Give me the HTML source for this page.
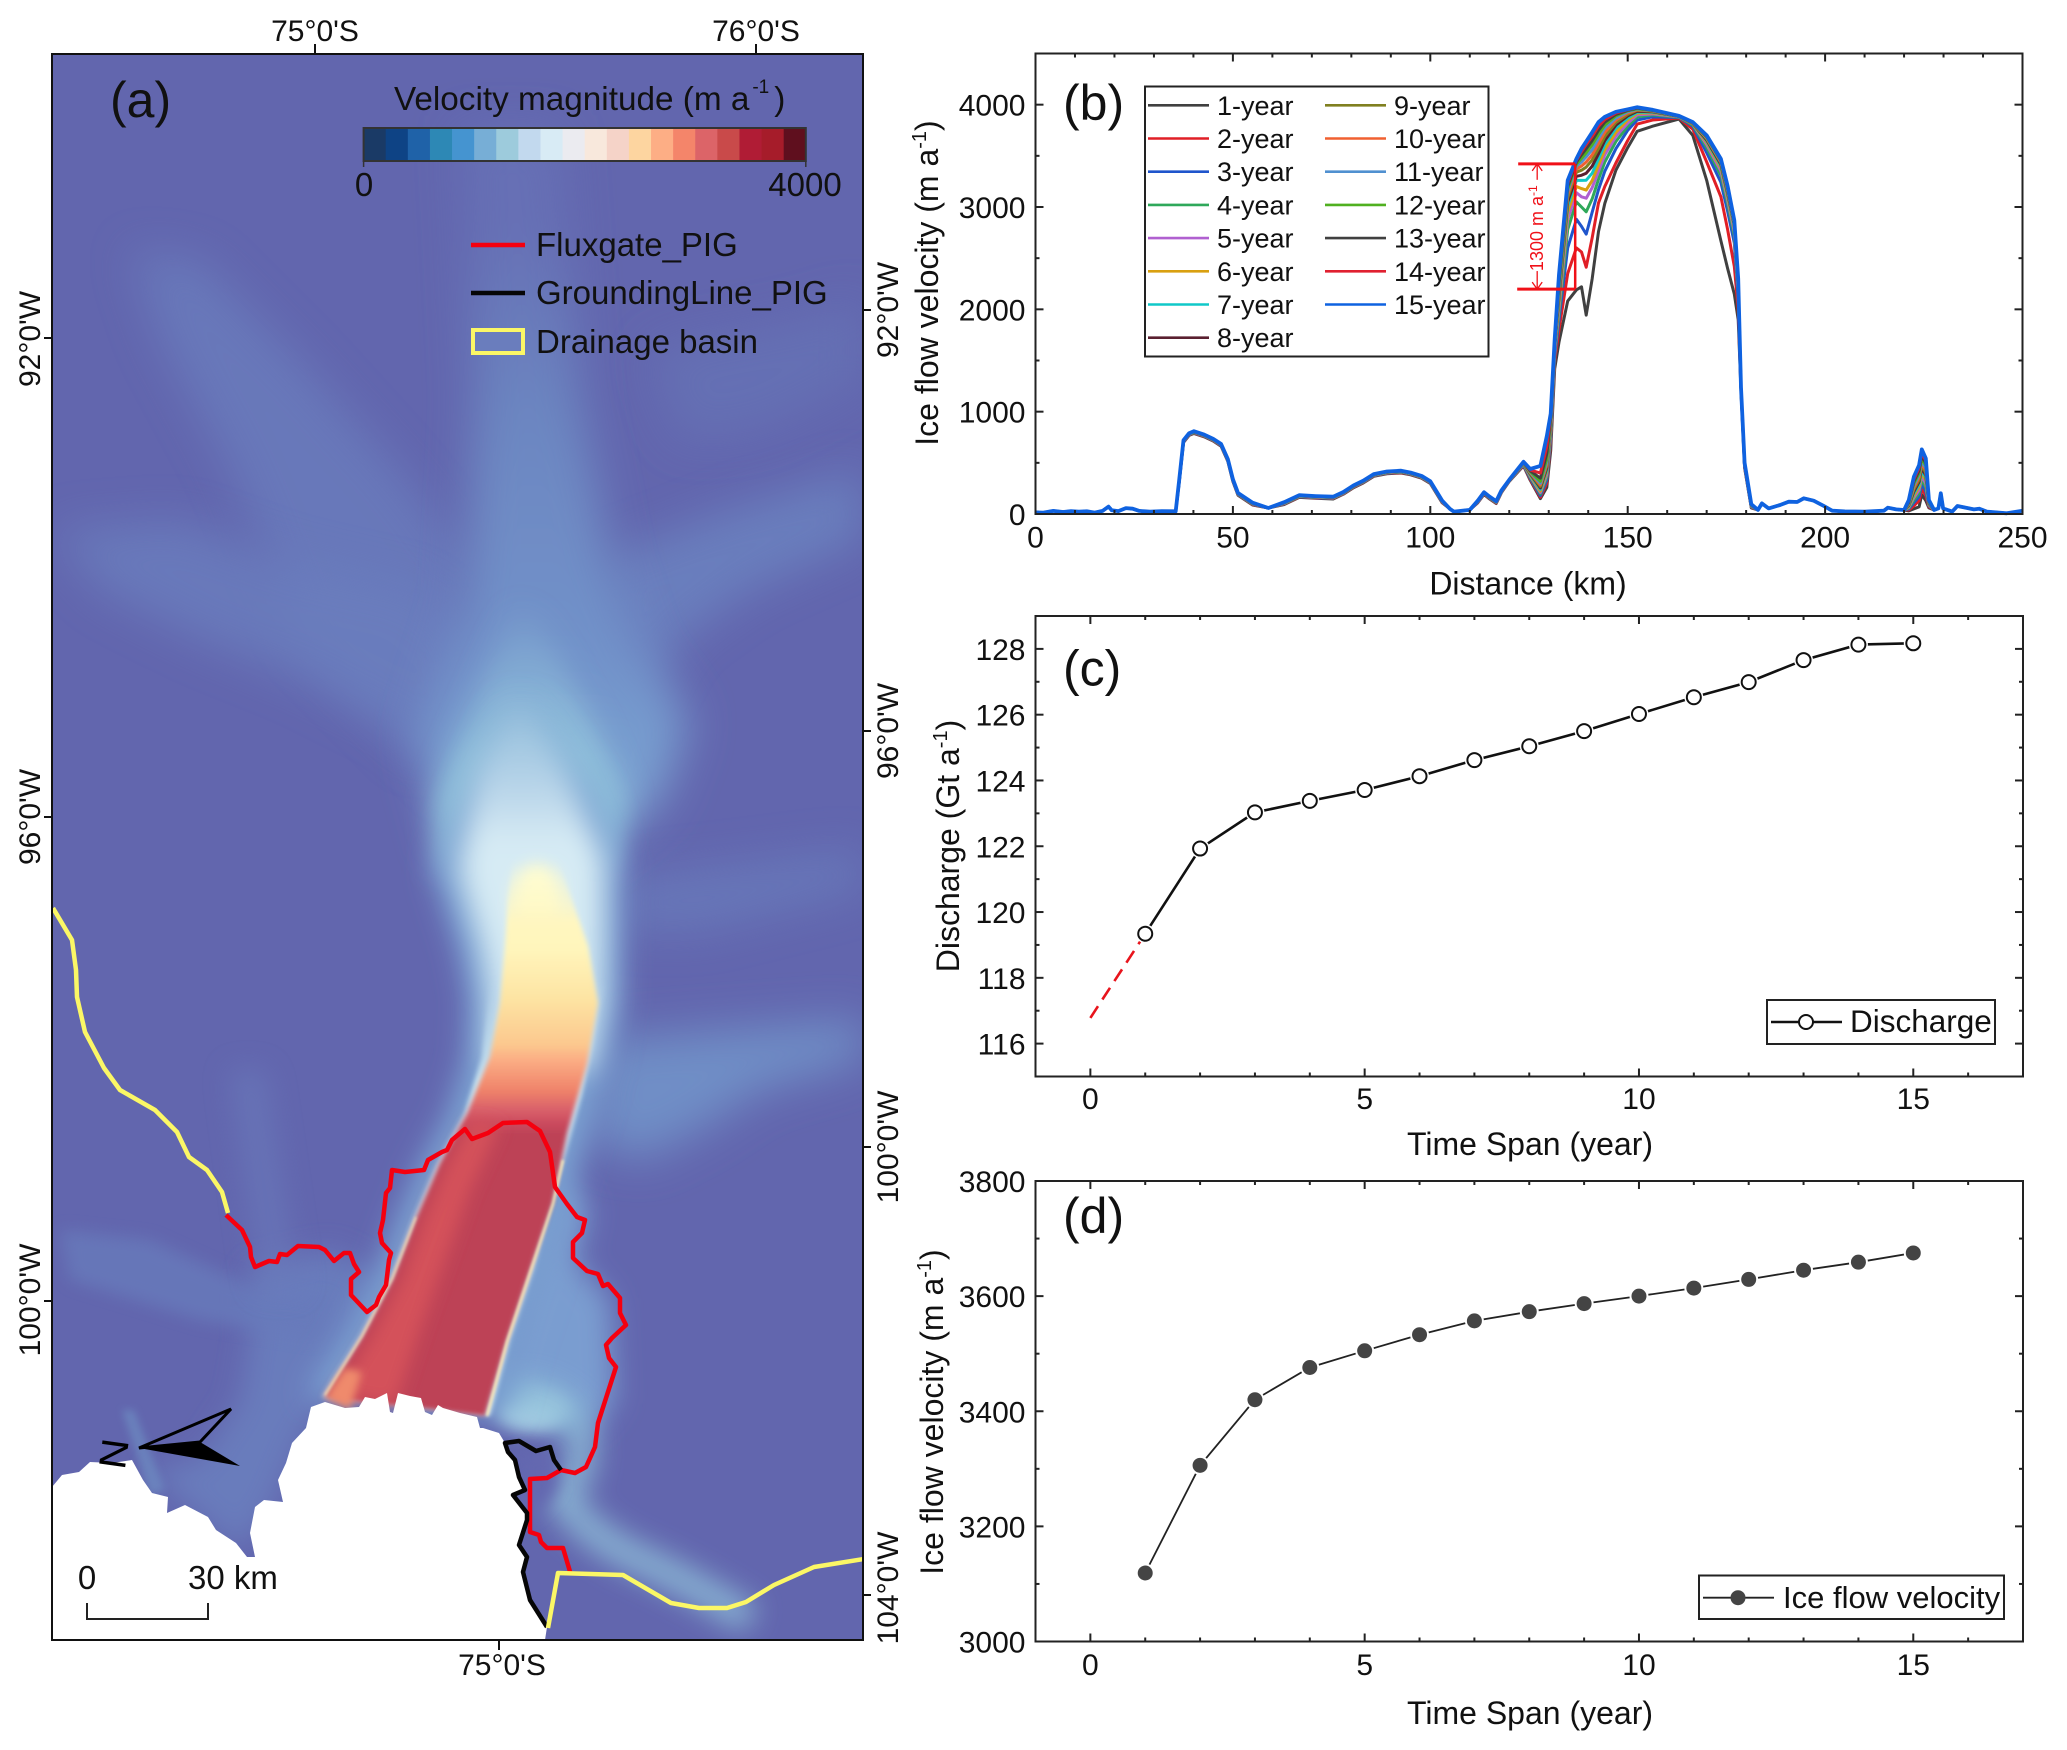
<!DOCTYPE html>
<html lang="en">
<head>
<meta charset="utf-8">
<title>Pine Island Glacier velocity and discharge</title>
<style>
html,body{margin:0;padding:0;background:#fff;}
svg{display:block;font-family:"Liberation Sans",Arial,sans-serif;fill:#111;}
</style>
</head>
<body>
<svg id="figure" xmlns="http://www.w3.org/2000/svg" width="2067" height="1750" viewBox="0 0 2067 1750">
<defs>
<clipPath id="mapClip"><rect x="52" y="54" width="811" height="1586"/></clipPath>
<filter id="b1" filterUnits="userSpaceOnUse" x="0" y="0" width="1000" height="1800"><feGaussianBlur stdDeviation="1.2"/></filter>
<filter id="b3" filterUnits="userSpaceOnUse" x="0" y="0" width="1000" height="1800"><feGaussianBlur stdDeviation="2.5"/></filter>
<filter id="b4" filterUnits="userSpaceOnUse" x="0" y="0" width="1000" height="1800"><feGaussianBlur stdDeviation="4"/></filter>
<filter id="b8" filterUnits="userSpaceOnUse" x="0" y="0" width="1000" height="1800"><feGaussianBlur stdDeviation="8"/></filter>
<filter id="b14" filterUnits="userSpaceOnUse" x="0" y="0" width="1000" height="1800"><feGaussianBlur stdDeviation="14"/></filter>
<filter id="b22" filterUnits="userSpaceOnUse" x="0" y="0" width="1000" height="1800"><feGaussianBlur stdDeviation="22"/></filter>
<linearGradient id="tongueGrad" gradientUnits="userSpaceOnUse" x1="0" y1="860" x2="0" y2="1420">
<stop offset="0" stop-color="#fefcd0" stop-opacity="0"/><stop offset=".11" stop-color="#fff6c0"/><stop offset=".16" stop-color="#fff5bb"/>
<stop offset=".25" stop-color="#fde3a2"/><stop offset=".33" stop-color="#fcc88e"/><stop offset=".357" stop-color="#fbad84"/>
<stop offset=".41" stop-color="#f0846b"/><stop offset=".446" stop-color="#d9606a"/><stop offset=".473" stop-color="#c9485c"/>
<stop offset=".49" stop-color="#bd4257"/><stop offset="1" stop-color="#bd4257"/>
</linearGradient>
<linearGradient id="stemGrad" gradientUnits="userSpaceOnUse" x1="0" y1="230" x2="0" y2="850">
<stop offset="0" stop-color="#6670b5"/><stop offset=".3" stop-color="#6c86c1"/><stop offset=".7" stop-color="#7293ca"/><stop offset="1" stop-color="#7ea9d5"/>
</linearGradient>
<linearGradient id="brightGrad" gradientUnits="userSpaceOnUse" x1="0" y1="600" x2="0" y2="760">
<stop offset="0" stop-color="#93c4dc" stop-opacity="0"/><stop offset="1" stop-color="#93c4dc"/>
</linearGradient>
<linearGradient id="paleGrad" gradientUnits="userSpaceOnUse" x1="0" y1="690" x2="0" y2="840">
<stop offset="0" stop-color="#d6ebf4" stop-opacity="0"/><stop offset="1" stop-color="#d6ebf4"/>
</linearGradient>
<linearGradient id="outerGrad" gradientUnits="userSpaceOnUse" x1="0" y1="690" x2="0" y2="830">
<stop offset="0" stop-color="#7aa2d2" stop-opacity="0"/><stop offset="1" stop-color="#7aa2d2"/>
</linearGradient>
<linearGradient id="haloLowerGrad" gradientUnits="userSpaceOnUse" x1="0" y1="980" x2="0" y2="1080">
<stop offset="0" stop-color="#c8e3f0" stop-opacity="0"/><stop offset="1" stop-color="#c8e3f0"/>
</linearGradient>
</defs>

<g id="map">
<g clip-path="url(#mapClip)">
<rect x="52" y="54" width="811" height="1586" fill="#6266ae"/>
<polygon points="130,250 200,260 300,360 400,470 470,560 470,720 420,760 300,640 230,470 160,340" fill="#6a7ebe" opacity=".75" filter="url(#b22)"/>
<polygon points="52,530 180,520 290,560 420,590 470,640 470,800 400,730 300,680 200,640 100,590" fill="#6a7ebe" opacity=".8" filter="url(#b22)"/>
<polygon points="600,560 730,510 863,470 863,540 750,590 680,640 640,720 600,720" fill="#6c84c1" opacity=".8" filter="url(#b22)"/>
<polygon points="650,350 800,320 863,300 863,380 760,430 680,440" fill="#6570b4" filter="url(#b22)"/>
<polygon points="620,880 863,850 863,890 700,930 620,930" fill="#697cbc" opacity=".8" filter="url(#b22)"/>
<polygon points="600,1040 720,1030 863,1020 863,1060 760,1090 700,1130 640,1160 590,1140" fill="#6f8ec6" filter="url(#b22)"/>
<polygon points="460,130 560,130 580,400 610,560 640,650 690,720 660,800 600,850 450,850 420,740 465,600 475,400" fill="url(#stemGrad)" filter="url(#b22)"/>
<polygon points="515,600 540,620 590,720 625,800 610,870 440,870 435,800 470,720" fill="url(#brightGrad)" filter="url(#b14)"/>
<polygon points="250,1270 330,1250 390,1280 340,1380 300,1440 270,1510 240,1550 170,1490 150,1470 200,1460 240,1400 250,1340" fill="#697cbc" filter="url(#b14)"/>
<polygon points="60,1230 150,1240 260,1290 330,1300 320,1340 200,1320 70,1280" fill="#687abb" opacity=".8" filter="url(#b8)"/>
<polygon points="230,1070 265,1070 290,1240 300,1290 260,1290" fill="#6a7cbc" opacity=".6" filter="url(#b14)"/>
<polygon points="122,1410 134,1410 165,1490 150,1495" fill="#6e8fc4" opacity=".65" filter="url(#b4)"/>
<polygon points="490,1410 560,1170 590,1210 575,1260 610,1300 615,1400 590,1430 540,1420" fill="#7a9dd0" filter="url(#b14)"/>
<ellipse cx="533" cy="1412" rx="36" ry="20" fill="#a5cde3" filter="url(#b8)"/>
<path d="M500 1395 Q550 1385 578 1425 Q590 1470 560 1495 Q585 1535 640 1560 T750 1620" fill="none" stroke="#8fbfd9" stroke-width="30" opacity=".85" filter="url(#b14)"/>
<polygon points="515,1450 555,1452 558,1490 530,1520" fill="#6468b0" filter="url(#b8)"/>
<polygon points="500,690 540,690 600,790 622,860 622,930 622,1003 600,1095 575,1180 550,1271 527,1340 507,1416 305,1397 343,1336 373,1279 397,1217 420,1164 447,1114 465,1057 468,1000 458,950 432,870 470,770" fill="url(#outerGrad)" filter="url(#b14)"/>
<polygon points="518,690 565,770 604,860 604,930 602,1003 590,1070 490,1070 490,1000 482,950 458,870 478,770" fill="url(#paleGrad)" filter="url(#b14)"/>
<polygon points="490,980 606,980 582,1095 558,1180 533,1271 510,1340 490,1416 322,1397 360,1336 390,1279 414,1217 437,1164 464,1114 482,1057" fill="url(#haloLowerGrad)" filter="url(#b3)"/>
<ellipse cx="537" cy="900" rx="24" ry="36" fill="#fefcd0" filter="url(#b8)"/>
<polygon points="513,860 557,860 572,900 588,946 598,1003 587,1064 567,1133 553,1202 530,1271 507,1340 485,1416 325,1397 363,1336 393,1279 417,1217 440,1164 467,1114 490,1057 500,1003 505,946 508,900" fill="url(#tongueGrad)" filter="url(#b3)"/>
<polygon points="335,1395 372,1336 402,1279 425,1217 448,1164 472,1120 500,1125 470,1190 445,1260 420,1330 395,1405" fill="#d4515a" filter="url(#b8)"/>
<polygon points="325,1398 345,1368 362,1372 350,1410" fill="#ef8a6c" filter="url(#b4)"/>
<path d="M487 1416 L507 1342 L530 1273 L553 1204 L563 1160" fill="none" stroke="#fff2b8" stroke-width="2.5" opacity=".9" filter="url(#b1)"/>
<path d="M325 1395 L362 1336 L392 1279 L416 1217" fill="none" stroke="#fff2b8" stroke-width="2" opacity=".7" filter="url(#b1)"/>
<polygon fill="#ffffff" points="311,1407 325,1402 345,1408 359,1407 365,1397 375,1399 387,1393 390,1412 393,1413 398,1393 410,1396 421,1398 425,1412 432,1415 438,1405 443,1408 460,1413 477,1417 480,1428 483,1428 499,1433 505,1443 508,1452 515,1460 519,1477 525,1490 513,1495 527,1513 527,1520 519,1545 527,1557 523,1572 530,1600 547,1627 545,1640 52,1640 52,1487 62,1475 79,1472 90,1462 112,1463 132,1460 143,1480 152,1493 168,1497 167,1513 185,1505 208,1517 216,1530 236,1543 247,1557 255,1557 250,1533 255,1507 264,1500 283,1502 278,1480 286,1463 292,1443 306,1428"/>
<polyline fill="none" stroke="#f5000f" stroke-width="4.5" stroke-linejoin="round" points="226,1215 242,1230 250,1247 251,1257 255,1267 269,1261 277,1262 280,1254 287,1255 298,1246 319,1247 325,1250 334,1261 344,1253 350,1253 354,1264 359,1272 351,1279 351,1295 367,1312 376,1305 379,1297 386,1285 389,1260 391,1253 382,1243 380,1233 383,1220 386,1193 390,1188 392,1170 405,1172 424,1170 428,1160 442,1152 447,1150 452,1140 465,1129 472,1139 488,1133 503,1123 527,1122 540,1131 550,1152 555,1187 567,1204 577,1217 585,1220 582,1233 573,1242 573,1258 587,1271 598,1274 603,1286 608,1284 620,1298 620,1313 626,1325 612,1338 606,1345 609,1358 616,1367 598,1423 595,1447 586,1467 575,1473 561,1470 547,1478 530,1479 530,1532 539,1535 541,1542 547,1548 563,1548 571,1575"/>
<polyline fill="none" stroke="#060606" stroke-width="4.5" stroke-linejoin="round" points="561,1470 554,1460 550,1447 536,1451 519,1441 505,1443 508,1452 515,1460 519,1477 525,1490 513,1495 527,1513 527,1520 519,1545 527,1557 523,1572 530,1600 547,1627"/>
<polyline fill="none" stroke="#fbf766" stroke-width="4.5" stroke-linejoin="round" points="53,908 72,940 76,970 77,997 85,1032 104,1068 120,1090 155,1110 177,1132 189,1157 207,1170 222,1192 228,1213"/>
<polyline fill="none" stroke="#fbf766" stroke-width="4.5" stroke-linejoin="round" points="548,1628 558,1573 623,1575 671,1603 699,1608 727,1608 746,1602 774,1585 814,1567 870,1558"/>
</g>
<rect x="52" y="54" width="811" height="1586" fill="none" stroke="#111" stroke-width="2"/>

<g stroke="#111" stroke-width="2">
<line x1="315" y1="44" x2="315" y2="54"/>
<line x1="756" y1="44" x2="756" y2="54"/>
<line x1="499" y1="1640" x2="499" y2="1650"/>
<line x1="44" y1="338" x2="52" y2="338"/>
<line x1="44" y1="817" x2="52" y2="817"/>
<line x1="44" y1="1301" x2="52" y2="1301"/>
<line x1="863" y1="310" x2="871" y2="310"/>
<line x1="863" y1="731" x2="871" y2="731"/>
<line x1="863" y1="1147" x2="871" y2="1147"/>
<line x1="863" y1="1595" x2="871" y2="1595"/>
</g>
<g font-size="30" text-anchor="middle">
<text x="315" y="41">75°0'S</text>
<text x="756" y="41">76°0'S</text>
<text x="502" y="1675">75°0'S</text>
<text transform="translate(40,339) rotate(-90)">92°0'W</text>
<text transform="translate(40,817) rotate(-90)">96°0'W</text>
<text transform="translate(40,1300) rotate(-90)">100°0'W</text>
<text transform="translate(898,310) rotate(-90)">92°0'W</text>
<text transform="translate(898,731) rotate(-90)">96°0'W</text>
<text transform="translate(898,1147) rotate(-90)">100°0'W</text>
<text transform="translate(898,1588) rotate(-90)">104°0'W</text>
</g>

<text x="110" y="117" font-size="50">(a)</text>
<text x="394" y="110" font-size="33.3">Velocity magnitude (m a<tspan dy="-17" dx="3" font-size="19">-1</tspan><tspan dy="17" dx="5">)</tspan></text>
<g id="colorbar"></g>
<text x="364" y="196" font-size="33" text-anchor="middle">0</text>
<text x="805" y="196" font-size="33" text-anchor="middle">4000</text>

<g>
<line x1="471" y1="245" x2="525" y2="245" stroke="#f5000f" stroke-width="4.5"/>
<text x="536" y="256" font-size="33">Fluxgate_PIG</text>
<line x1="471" y1="293" x2="525" y2="293" stroke="#060606" stroke-width="4.5"/>
<text x="536" y="304" font-size="33">GroundingLine_PIG</text>
<rect x="473" y="330" width="50" height="23" fill="#6a7dbd" stroke="#fbf766" stroke-width="4"/>
<text x="536" y="353" font-size="33">Drainage basin</text>
</g>

<g>
<polygon points="139,1448 231,1409 200,1442" fill="none" stroke="#000" stroke-width="3"/>
<polygon points="139,1448 200,1442 240,1466" fill="#000"/>
<text transform="translate(103,1437) rotate(98) scale(1.1,1)" font-size="38" fill="#000">N</text>
</g>

<g>
<polyline points="87,1603 87,1619 208,1619 208,1603" fill="none" stroke="#222" stroke-width="2"/>
<text x="87" y="1589" font-size="33" text-anchor="middle">0</text>
<text x="188" y="1589" font-size="33">30 km</text>
</g>
</g>

<g id="panelB"></g>
<g id="panelC"></g>
<g id="panelD"></g>
</svg>

<script>
/* ---------- Colour bar ---------- */
const colorbarColors = ["#1a3a66","#0e4385","#1f62a8","#2d88b5","#4594d0","#77aed6","#9dcbdc","#c2d9ee","#d8ebf5","#ebebf0","#f8e8dc","#f5d3c8","#fdd5a0","#fdae85","#f4856a","#dc6468","#c94a4a","#b01c35","#a61c2a","#5f0f1e"];

/* ---------- Panel (b): velocity along profile ---------- */
const seriesNames = ["1-year","2-year","3-year","4-year","5-year","6-year","7-year","8-year","9-year","10-year","11-year","12-year","13-year","14-year","15-year"];
const seriesColors = ["#404040","#e01f26","#1f55cc","#2fa85a","#b060d0","#d9a010","#10c8c8","#5a2030","#808020","#f06030","#5090d0","#50b020","#404040","#e02030","#0f62e0"];
const leftKm = [0,2,4.5,7,9,11,13,15,17,18.5,19.3,21,22.9,24.6,26.3,29,32,35.5,36.4,37.5,38.9,40.1,42.7,45,47,48.7,50,51.3,55,59,63,66.8,71,75.4,78,80.6,83,85.7,89,92.6,95,97.8,100,103,105,106,110,112,113.6,115,116.7,118];
const leftVelocity = [16,14,30,20,28,22,26,14,30,72,36,28,58,52,30,22,28,26,332,721,790,809,776,735,684,537,340,206,110,59,115,184,175,169,215,280,325,390,415,423,405,372,320,132,50,22,40,130,213,170,125,230];
const leftSpread = [-22,-18,-15,-13,-11,-9,-8,-7,-6,-5,-4,-3,-2,-1,0];
const midKm = [120,123.6,125.3,127.9,129.5,130.5,131.5,132.6,134.8,137,138.3,139.5,141,142.6,144.2,147,150,152.4,156.3,163,166.5,170,173.6,175.3,177,178,178.7,179.6,181.3];
const midYear1  = [320,470,330,150,260,620,1420,1680,2080,2190,2220,1944,2300,2760,3035,3360,3580,3740,3790,3860,3700,3260,2670,2400,2150,1900,1200,450,60];
const midYear2  = [322,475,340,165,300,700,1500,1800,2350,2600,2560,2412,2700,3040,3200,3430,3650,3810,3850,3870,3760,3440,3100,2780,2420,2000,1215,460,65];
const midYear3  = [324,480,350,180,330,740,1540,1900,2600,2880,2810,2735,2950,3170,3350,3570,3750,3850,3880,3875,3790,3530,3240,2960,2650,2100,1220,470,68];
const midYear4  = [326,484,360,195,360,770,1570,1960,2780,3050,3000,2953,3080,3270,3440,3640,3790,3880,3900,3878,3800,3580,3310,3030,2720,2150,1222,475,72];
const midYear5  = [328,487,370,210,385,795,1590,2010,2880,3140,3100,3086,3190,3350,3510,3690,3820,3900,3910,3880,3810,3610,3350,3070,2760,2180,1224,478,75];
const midYear6  = [329,490,378,225,410,820,1610,2050,2950,3200,3180,3165,3260,3410,3560,3730,3850,3915,3920,3882,3812,3630,3380,3100,2790,2200,1226,480,78];
const midYear7  = [330,492,385,240,430,840,1625,2090,3010,3260,3260,3262,3330,3470,3610,3770,3870,3925,3925,3884,3815,3645,3400,3120,2810,2220,1228,482,80];
const midYear8  = [331,494,392,255,450,860,1640,2120,3050,3300,3310,3330,3400,3520,3650,3800,3890,3935,3930,3885,3816,3655,3415,3135,2825,2235,1229,484,82];
const midYear9  = [332,496,398,270,470,875,1650,2150,3090,3340,3360,3390,3460,3570,3690,3825,3905,3945,3935,3886,3818,3665,3430,3150,2835,2245,1230,486,84];
const midYear10 = [332,498,404,285,490,890,1660,2175,3120,3370,3400,3440,3510,3620,3730,3850,3920,3950,3938,3887,3820,3672,3440,3160,2845,2255,1231,488,86];
const midYear11 = [333,500,410,300,510,905,1670,2200,3150,3400,3440,3490,3560,3670,3770,3870,3930,3955,3940,3888,3822,3678,3447,3170,2850,2265,1232,490,88];
const midYear12 = [333,502,416,320,540,920,1680,2225,3175,3420,3475,3530,3610,3710,3800,3890,3940,3960,3943,3888,3823,3684,3453,3178,2855,2275,1233,492,90];
const midYear13 = [334,504,422,350,590,940,1690,2260,3200,3440,3510,3570,3650,3750,3830,3905,3945,3965,3945,3889,3825,3690,3458,3186,2860,2285,1234,495,92];
const midYear14 = [334,507,430,400,660,960,1700,2300,3230,3455,3540,3610,3690,3790,3855,3918,3950,3970,3948,3890,3828,3695,3464,3195,2865,2292,1235,497,94];
const midYear15 = [335,510,440,470,760,980,1710,2340,3260,3470,3570,3640,3730,3830,3880,3930,3955,3975,3950,3890,3830,3700,3470,3205,2870,2300,1236,500,96];
const midVelocity = [midYear1,midYear2,midYear3,midYear4,midYear5,midYear6,midYear7,midYear8,midYear9,midYear10,midYear11,midYear12,midYear13,midYear14,midYear15];
const rightKm = [183,184,185.7,188.6,190.8,192.9,194.6,197.1,199.7,201.8,205,210,214.9,215.9,218,220];
const rightVelocity = [40,104,55,88,120,117,153,130,78,32,25,22,32,62,45,39];
const peakKm = [221.2,222.5,223.8,224.5,225.5,226.3];
const peakVelocity = [[30,50,70,190,130,60],[40,80,130,250,180,70],[50,110,170,300,220,80],[58,135,205,340,260,85],[65,160,235,375,295,90],[72,180,265,405,325,95],[78,200,290,430,350,100],[84,220,315,455,375,105],[90,240,335,475,400,110],[96,260,360,500,420,115],[102,280,380,525,445,118],[108,300,400,550,470,122],[115,320,425,575,495,126],[125,340,450,600,520,130],[137,365,478,631,543,137]];
const tailKm = [227.6,228.7,229.3,229.9,232.2,233.5,237.7,239,241,246,250];
const tailVelocity = [39,55,202,55,23,78,45,52,23,7,32];
const bXTicks = [0,50,100,150,200,250];
const bXMinor = [10,20,30,40,60,70,80,90,110,120,130,140,160,170,180,190,210,220,230,240];
const bYTicks = [0,1000,2000,3000,4000];
const bYMinor = [500,1500,2500,3500];
const annotationKm = 136.7;
const annotationTop = 3422;
const annotationBottom = 2198;

/* ---------- Panel (c): discharge ---------- */
const spanYears = [1,2,3,4,5,6,7,8,9,10,11,12,13,14,15];
const dischargeValues = [119.34,121.93,123.03,123.38,123.71,124.13,124.62,125.04,125.5,126.02,126.53,126.99,127.66,128.13,128.17];
const dischargeExtrapolatedYear = 0;
const dischargeExtrapolated = 116.78;
const cXTicks = [0,5,10,15];
const cXMinor = [-1,1,2,3,4,6,7,8,9,11,12,13,14,16,17];
const cYTicks = [116,118,120,122,124,126,128];
const cYMinor = [115,117,119,121,123,125,127,129];

/* ---------- Panel (d): mean velocity ---------- */
const velocityValues = [3119,3306,3420,3476,3505,3533,3557,3573,3587,3600,3614,3629,3645,3659,3675];
const dYTicks = [3000,3200,3400,3600,3800];
const dYMinor = [3100,3300,3500,3700];

const NS = "http://www.w3.org/2000/svg";
function mk(tag, attrs, parent) {
  const el = document.createElementNS(NS, tag);
  for (const k in attrs) el.setAttribute(k, attrs[k]);
  parent.appendChild(el);
  return el;
}
function linear(d0, d1, r0, r1) { return v => r0 + (v - d0) * (r1 - r0) / (d1 - d0); }
function pathOf(xs, ys, sx, sy) { return xs.map((x, i) => sx(x).toFixed(1) + "," + sy(ys[i]).toFixed(1)).join(" "); }

/* colour bar */
(function () {
  const g = document.getElementById("colorbar");
  const x0 = 363.6, w = 442.2 / colorbarColors.length;
  colorbarColors.forEach((c, i) => {
    const el = mk("rect", {x: x0 + i * w, y: 128, width: w + 0.5, height: 33, fill: c}, g);
    
    
  });
  const frame = mk("rect", {x: 363.6, y: 128, width: 442.2, height: 33, fill: "none", stroke: "#333", "stroke-width": 2}, g);
  
  
  [363.6, 805.8].forEach(x => {
    const t = mk("line", {x1: x, x2: x, y1: 161, y2: 167, stroke: "#333", "stroke-width": 1.5}, g);
    
    
  });
})();

/* shared axes frame */
function drawAxes(g, box, sx, sy, xMajor, xMinor, yMajor, yMinor, labelBaseline) {
  const frame = mk("rect", {x: box.l, y: box.t, width: box.r - box.l, height: box.b - box.t, fill: "none", stroke: "#222", "stroke-width": 2}, g);
  
  
  function tick(x1, y1, x2, y2, name) {
    const t = mk("line", {x1, y1, x2, y2, stroke: "#222", "stroke-width": 2}, g);
    
    
  }
  xMajor.forEach(v => {
    const x = sx(v);
    tick(x, box.b, x, box.b - 8, 'x-tick-major');
    tick(x, box.t, x, box.t + 8, 'x-tick-major-top');
    const lab = mk("text", {x, y: labelBaseline, "font-size": 30, "text-anchor": "middle"}, g);
    lab.textContent = v;
    
    
  });
  xMinor.forEach(v => {
    const x = sx(v);
    tick(x, box.b, x, box.b - 4, 'x-tick-minor');
    tick(x, box.t, x, box.t + 4, 'x-tick-minor-top');
  });
  yMajor.forEach(v => {
    const y = sy(v);
    tick(box.l, y, box.l + 8, y, 'y-tick-major');
    tick(box.r, y, box.r - 8, y, 'y-tick-major-right');
    const lab = mk("text", {x: box.l - 10, y: y + 11, "font-size": 30, "text-anchor": "end"}, g);
    lab.textContent = v;
    
    
  });
  yMinor.forEach(v => {
    const y = sy(v);
    tick(box.l, y, box.l + 4, y, 'y-tick-minor');
    tick(box.r, y, box.r - 4, y, 'y-tick-minor-right');
  });
}
function addText(g, txt, attrs, name) {
  const el = mk("text", attrs, g);
  el.textContent = txt;
  
  
  return el;
}
function addYTitle(g, main, tail, x, y, name) {
  const el = mk("text", {transform: "translate(" + x + "," + y + ") rotate(-90)", "font-size": 32, "text-anchor": "middle"}, g);
  
  
  el.appendChild(document.createTextNode(main));
  const s = mk("tspan", {dy: -12, "font-size": 20}, el);
  s.textContent = "-1";
  const e = mk("tspan", {dy: 12}, el);
  e.textContent = tail;
}

/* panel b */
(function () {
  const g = document.getElementById("panelB");
  const box = {l: 1035.5, r: 2022.5, t: 53.5, b: 514};
  const sx = linear(0, 250, box.l, box.r);
  const sy = linear(0, 4500, box.b, box.t);
  seriesNames.forEach((name, i) => {
    const xs = [], ys = [];
    leftKm.forEach((k, j) => { xs.push(k); ys.push(leftVelocity[j] > 100 ? leftVelocity[j] + leftSpread[i] : leftVelocity[j]); });
    midKm.forEach((k, j) => { xs.push(k); ys.push(midVelocity[i][j]); });
    rightKm.forEach((k, j) => { xs.push(k); ys.push(rightVelocity[j]); });
    peakKm.forEach((k, j) => { xs.push(k); ys.push(peakVelocity[i][j]); });
    tailKm.forEach((k, j) => { xs.push(k); ys.push(tailVelocity[j]); });
    const line = mk("polyline", {points: pathOf(xs, ys, sx, sy), fill: "none", stroke: seriesColors[i], "stroke-width": i === 14 ? 3.8 : 3, "stroke-linejoin": "round"}, g);
    
    
  });
  drawAxes(g, box, sx, sy, bXTicks, bXMinor, bYTicks, bYMinor, 547.5);
  addText(g, "Distance (km)", {x: 1528, y: 594.5, "font-size": 32, "text-anchor": "middle"}, 'x-axis-title');
  addYTitle(g, "Ice flow velocity (m a", ")", 938, 283, 'y-axis-title');
  addText(g, "(b)", {x: 1063, y: 120, "font-size": 50}, 'panel-label-b');

  /* annotation */
  const ax = sx(annotationKm), at = sy(annotationTop), ab = sy(annotationBottom);
  const ann = mk("g", {stroke: "#f01018", fill: "none"}, g);
  
  
  [[ax - 57, at, ax, at, 3], [ax - 58, ab, ax, ab, 3], [ax, at, ax, ab, 2.5], [ax - 38, at, ax - 38, at + 16, 1.3], [ax - 38, ab - 18, ax - 38, ab, 1.3]].forEach(p => {
    const l = mk("line", {x1: p[0], y1: p[1], x2: p[2], y2: p[3], "stroke-width": p[4]}, ann);
    
    
  });
  [[ax - 43, at + 7, ax - 38, at, ax - 33, at + 7], [ax - 43, ab - 7, ax - 38, ab, ax - 33, ab - 7]].forEach(p => {
    const h = mk("polyline", {points: p[0] + "," + p[1] + " " + p[2] + "," + p[3] + " " + p[4] + "," + p[5], "stroke-width": 1.3}, ann);
    
    
  });
  const t = mk("text", {transform: "translate(" + (ax - 32) + "," + (ab - 18) + ") rotate(-90)", "font-size": 18, fill: "#f01018"}, g);
  
  
  t.appendChild(document.createTextNode("1300 m a"));
  const sup = mk("tspan", {dy: -6, "font-size": 12}, t);
  sup.textContent = "-1";

  /* legend */
  const lg = mk("g", {}, g);
  
  
  const bg = mk("rect", {x: 1145, y: 86.5, width: 343.5, height: 270, fill: "#fff", stroke: "#222", "stroke-width": 2}, lg);
  
  
  seriesNames.forEach((name, i) => {
    const col = i < 8 ? 0 : 1, row = i < 8 ? i : i - 8;
    const y = 105.3 + row * 33.2;
    const x1 = col ? 1325 : 1148;
    const sw = mk("line", {x1, x2: x1 + 61, y1: y, y2: y, stroke: seriesColors[i], "stroke-width": 2.6}, lg);
    
    
    addText(lg, name, {x: col ? 1394 : 1217, y: y + 9.5, "font-size": 27}, 'legend-label-' + name);
  });
})();

/* panel c */
(function () {
  const g = document.getElementById("panelC");
  const box = {l: 1035.5, r: 2023, t: 616, b: 1076.5};
  const sx = linear(-1, 17, box.l, box.r);
  const sy = linear(115, 129, box.b, box.t);
  drawAxes(g, box, sx, sy, cXTicks, cXMinor, cYTicks, cYMinor, 1109);
  addText(g, "Time Span (year)", {x: 1530, y: 1155, "font-size": 32, "text-anchor": "middle"}, 'x-axis-title');
  addYTitle(g, "Discharge (Gt a", ")", 959, 846, 'y-axis-title');
  addText(g, "(c)", {x: 1063, y: 685.5, "font-size": 50}, 'panel-label-c');
  const dash = mk("line", {x1: sx(dischargeExtrapolatedYear), y1: sy(dischargeExtrapolated), x2: sx(spanYears[0]), y2: sy(dischargeValues[0]), stroke: "#e8141c", "stroke-width": 2.6, "stroke-dasharray": "14 8"}, g);
  
  
  const line = mk("polyline", {points: pathOf(spanYears, dischargeValues, sx, sy), fill: "none", stroke: "#111", "stroke-width": 2.6}, g);
  
  
  spanYears.forEach((yr, i) => {
    const halo = mk("circle", {cx: sx(yr), cy: sy(dischargeValues[i]), r: 9.5, fill: "#fff"}, g);
    
    
    const c = mk("circle", {cx: sx(yr), cy: sy(dischargeValues[i]), r: 7, fill: "#fff", stroke: "#111", "stroke-width": 2}, g);
    
    
  });
  const bg = mk("rect", {x: 1767, y: 1000, width: 228, height: 44, fill: "#fff", stroke: "#222", "stroke-width": 2}, g);
  
  
  const sw = mk("line", {x1: 1771, x2: 1842, y1: 1022, y2: 1022, stroke: "#111", "stroke-width": 2.6}, g);
  
  
  const m = mk("circle", {cx: 1806, cy: 1022, r: 7, fill: "#fff", stroke: "#111", "stroke-width": 2}, g);
  
  
  addText(g, "Discharge", {x: 1850, y: 1032, "font-size": 31.5}, 'discharge-legend-label');
})();

/* panel d */
(function () {
  const g = document.getElementById("panelD");
  const box = {l: 1035.5, r: 2023, t: 1181, b: 1641.5};
  const sx = linear(-1, 17, box.l, box.r);
  const sy = linear(3000, 3800, box.b, box.t);
  drawAxes(g, box, sx, sy, cXTicks, cXMinor, dYTicks, dYMinor, 1675);
  addText(g, "Time Span (year)", {x: 1530, y: 1724, "font-size": 32, "text-anchor": "middle"}, 'x-axis-title');
  addYTitle(g, "Ice flow velocity (m a", ")", 943, 1412, 'y-axis-title');
  addText(g, "(d)", {x: 1063, y: 1233, "font-size": 50}, 'panel-label-d');
  const line = mk("polyline", {points: pathOf(spanYears, velocityValues, sx, sy), fill: "none", stroke: "#222", "stroke-width": 1.8}, g);
  
  
  spanYears.forEach((yr, i) => {
    const halo = mk("circle", {cx: sx(yr), cy: sy(velocityValues[i]), r: 9.5, fill: "#fff"}, g);
    
    
    const c = mk("circle", {cx: sx(yr), cy: sy(velocityValues[i]), r: 7.5, fill: "#444"}, g);
    
    
  });
  const bg = mk("rect", {x: 1699, y: 1575.5, width: 305, height: 43.5, fill: "#fff", stroke: "#222", "stroke-width": 2}, g);
  
  
  const sw = mk("line", {x1: 1703, x2: 1774, y1: 1597.7, y2: 1597.7, stroke: "#222", "stroke-width": 1.8}, g);
  
  
  const m = mk("circle", {cx: 1738, cy: 1597.7, r: 7.5, fill: "#444"}, g);
  
  
  addText(g, "Ice flow velocity", {x: 1783, y: 1608, "font-size": 31}, 'velocity-legend-label');
})();
</script>
</body>
</html>
